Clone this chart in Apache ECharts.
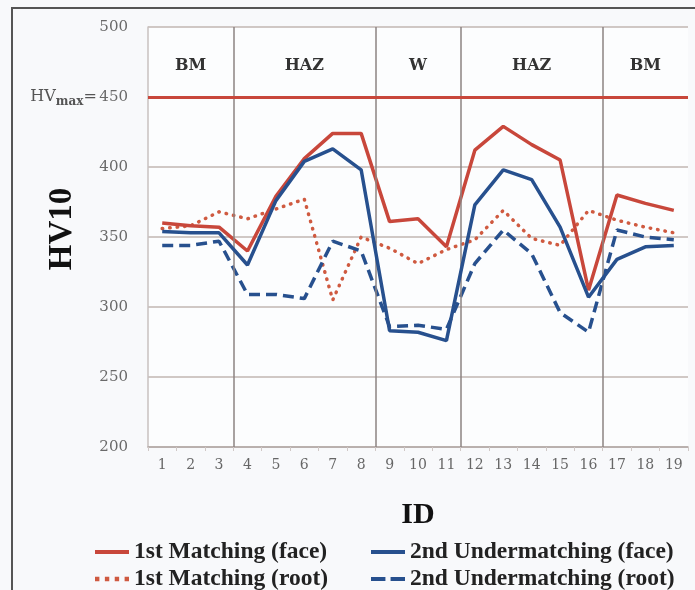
<!DOCTYPE html>
<html>
<head>
<meta charset="utf-8">
<script src="https://cdn.jsdelivr.net/npm/echarts@6/dist/echarts.min.js"></script>
<style>
  html, body { margin: 0; padding: 0; background: #f8f9fb; }
  #chart { width: 695px; height: 590px; }
</style>
</head>
<body>
<div id="chart"></div>
<script>
// Measurement positions along the specimen
const ids = ['1','2','3','4','5','6','7','8','9','10','11','12','13','14','15','16','17','18','19'];

// Vickers hardness HV10 per position
const matchingFace      = [360, 358, 357, 340, 379, 406, 424, 424, 361, 363, 343, 412, 429, 416, 405, 312, 380, 374, 369];
const undermatchingFace = [354, 353, 353, 330, 376, 404, 413, 398, 283, 282, 276, 373, 398, 391, 357, 307, 334, 343, 344];
const matchingRoot      = [356, 358, 368, 363, 370, 377, 305, 350, 342, 331, 341, 348, 369, 349, 344, 369, 362, 357, 353];
const undermatchingRoot = [344, 344, 347, 309, 309, 306, 347, 340, 286, 287, 284, 331, 355, 338, 296, 282, 355, 350, 348];

// Zones: names and their boundaries (in position units)
const zoneNames = ['BM', 'HAZ', 'W', 'HAZ', 'BM'];
const zoneEdges = [0, 3, 8, 11, 16, 19];

// Maximum allowed hardness
const hvMax = 450;

const seriesNames = ['1st Matching (face)', '2nd Undermatching (face)', '1st Matching (root)', '2nd Undermatching (root)'];

const RED = '#c8473b';
const RED_DOT = '#cf5a40';
const BLUE = '#27508e';
const SERIF = '"Liberation Serif", "Times New Roman", serif';
const WIDE_SERIF = '"DejaVu Serif", serif';

// Legend key shapes: solid bar, dotted row, dashed row
const ICON_SOLID  = 'path://M0,0h34v4h-34Z';
const ICON_DOTTED = 'path://M0,0h4v4h-4Z M9,0h4v4h-4Z M18,0h4v4h-4Z M27,0h4v4h-4Z';
const ICON_DASHED = 'path://M0,0h14v4h-14Z M19,0h14v4h-14Z';

const chart = echarts.init(document.getElementById('chart'), null, { renderer: 'canvas' });

const zoneAreas = zoneNames.map((n, i) => [
  { name: n, xAxis: zoneEdges[i], yAxis: 500 },
  { xAxis: zoneEdges[i + 1], yAxis: 444 }
]);
const zoneLines = zoneEdges.slice(1, -1).map(e => ({ xAxis: e }));

const legendText = { fontFamily: SERIF, fontWeight: 'bold', fontSize: 23.5, color: '#222' };
function legendBlock(name, icon, left, top) {
  return {
    data: [{ name: name, icon: icon }],
    left: left, top: top,
    itemWidth: 34, itemHeight: 14, itemGap: 0,
    textStyle: legendText,
    selectedMode: false
  };
}

chart.setOption({
  backgroundColor: '#f8f9fb',
  animation: false,
  graphic: [
    {
      type: 'rect',
      shape: { x: 12, y: 8, width: 720, height: 620 },
      style: { fill: 'transparent', stroke: '#555', lineWidth: 2 },
      z: 0, silent: true
    },
    {
      type: 'text',
      x: 418, y: 515,
      style: { text: 'ID', font: 'bold 30px ' + SERIF, fill: '#111', align: 'center', verticalAlign: 'middle' }
    },
    {
      type: 'text',
      x: 62, y: 229,
      rotation: Math.PI / 2,
      style: { text: 'HV10', font: 'bold 33px ' + SERIF, fill: '#111', align: 'center', verticalAlign: 'middle' }
    }
  ],
  grid: { left: 148, right: 7, top: 27, bottom: 143, show: true, backgroundColor: '#fcfdfe', borderWidth: 0 },
  legend: [
    legendBlock(seriesNames[0], ICON_SOLID, 90, 535),
    legendBlock(seriesNames[2], ICON_DOTTED, 90, 562),
    legendBlock(seriesNames[1], ICON_SOLID, 366, 535),
    legendBlock(seriesNames[3], ICON_DASHED, 366, 562)
  ],
  xAxis: [
    {
      type: 'category',
      data: ids,
      boundaryGap: true,
      axisLine: { lineStyle: { color: '#b3a9a6', width: 1.5 } },
      axisTick: { show: true, length: 4, lineStyle: { color: '#d0c8c6' } },
      axisLabel: { fontFamily: WIDE_SERIF, fontSize: 14, color: '#666', margin: 11 }
    },
    {
      type: 'value', min: 0, max: 19, show: false
    }
  ],
  yAxis: {
    type: 'value',
    min: 200, max: 500, interval: 50,
    axisLine: { show: true, lineStyle: { color: '#c9c1bf', width: 1.5 } },
    axisTick: { show: false },
    splitLine: { lineStyle: { color: '#c2b6b2', width: 1.5 } },
    axisLabel: {
      fontFamily: WIDE_SERIF, fontSize: 15, color: '#6a6a6a', margin: 20,
      formatter: v => v === hvMax ? '{hv|HV}{sub|max}{hv|=}{gap| }{n|' + v + '}' : String(v),
      rich: {
        hv: { fontFamily: WIDE_SERIF, fontSize: 16, color: '#555' },
        sub: { fontFamily: WIDE_SERIF, fontSize: 12, fontWeight: 'bold', color: '#555', padding: [10, 0, 0, 0] },
        gap: { fontSize: 8 },
        n: { fontFamily: WIDE_SERIF, fontSize: 15, color: '#6a6a6a' }
      }
    }
  },
  series: [
    {
      name: 'zones',
      type: 'line',
      xAxisIndex: 1,
      data: [],
      z: 1,
      silent: true,
      markLine: {
        silent: true,
        symbol: 'none',
        label: { show: false },
        lineStyle: { color: '#8d8382', width: 1.5, type: 'solid' },
        data: zoneLines.concat([{ yAxis: hvMax, lineStyle: { color: RED, width: 3, type: 'solid' } }])
      },
      markArea: {
        silent: true,
        itemStyle: { color: 'rgba(0,0,0,0)' },
        label: { show: true, position: 'inside', fontFamily: WIDE_SERIF, fontWeight: 'bold', fontSize: 16, color: '#333' },
        data: zoneAreas
      }
    },
    {
      name: seriesNames[0], type: 'line', data: matchingFace, symbol: 'none', z: 4,
      lineStyle: { color: RED, width: 3.5 }, itemStyle: { color: RED }
    },
    {
      name: seriesNames[2], type: 'line', data: matchingRoot, symbol: 'none', z: 3,
      lineStyle: { color: RED_DOT, width: 3.5, type: [0.5, 7], cap: 'round' }, itemStyle: { color: RED_DOT }
    },
    {
      name: seriesNames[1], type: 'line', data: undermatchingFace, symbol: 'none', z: 5,
      lineStyle: { color: BLUE, width: 3.5 }, itemStyle: { color: BLUE }
    },
    {
      name: seriesNames[3], type: 'line', data: undermatchingRoot, symbol: 'none', z: 4,
      lineStyle: { color: BLUE, width: 3.5, type: [11, 6] }, itemStyle: { color: BLUE }
    }
  ]
});
</script>
</body>
</html>
